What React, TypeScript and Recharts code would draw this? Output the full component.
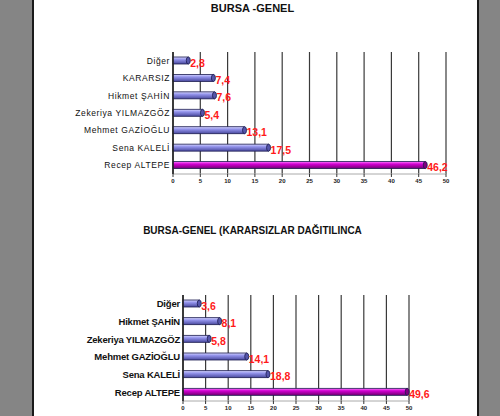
import React from "react";
import {
  BarChart,
  Bar,
  XAxis,
  YAxis,
  CartesianGrid,
  Cell,
  LabelList,
} from "recharts";

// top chart: BURSA -GENEL
const topCategories = [
  "Diğer",
  "KARARSIZ",
  "Hikmet ŞAHİN",
  "Zekeriya YILMAZGÖZ",
  "Mehmet GAZİOĞLU",
  "Sena KALELİ",
  "Recep ALTEPE",
];
const topValues = [2.8, 7.4, 7.6, 5.4, 13.1, 17.5, 46.2];

// bottom chart: after undecided votes are distributed
const bottomCategories = [
  "Diğer",
  "Hikmet ŞAHİN",
  "Zekeriya YILMAZGÖZ",
  "Mehmet GAZİOĞLU",
  "Sena KALELİ",
  "Recep ALTEPE",
];
const bottomValues = [3.6, 8.1, 5.8, 14.1, 18.8, 49.6];

const xTicks = [0, 5, 10, 15, 20, 25, 30, 35, 40, 45, 50];

const topData = topCategories.map((name, i) => ({ name, value: topValues[i] }));
const bottomData = bottomCategories.map((name, i) => ({
  name,
  value: bottomValues[i],
}));

const font = "Arial, 'Liberation Sans', sans-serif";

// cylinder-ish bar like the old excel 3d look
const TubeBar = (props: any) => {
  const { x, y, width, height, fill, cap } = props;
  if (!width || width <= 0) return null;
  return (
    <g>
      <rect
        x={x}
        y={y}
        width={width}
        height={height}
        fill={fill}
        stroke="#1c1c50"
        strokeWidth={0.8}
      />
      <ellipse
        cx={x + width}
        cy={y + height / 2}
        rx={2}
        ry={height / 2}
        fill={cap}
        stroke="#1c1c50"
        strokeWidth={0.8}
      />
    </g>
  );
};

const ValueLabel = (props: any) => {
  const { x, y, width, height, value } = props;
  return (
    <text
      x={x + width + 2}
      y={y + height / 2 + 6}
      fill="#ff1a1a"
      fontSize={10.5}
      fontWeight="bold"
      fontFamily={font}
    >
      {String(value).replace(".", ",")}
    </text>
  );
};

const Defs = () => (
  <defs>
    <linearGradient id="gradBlue" x1="0" y1="0" x2="0" y2="1">
      <stop offset="0%" stopColor="#d8d8ff" />
      <stop offset="35%" stopColor="#9494ec" />
      <stop offset="100%" stopColor="#48489c" />
    </linearGradient>
    <linearGradient id="gradPink" x1="0" y1="0" x2="0" y2="1">
      <stop offset="0%" stopColor="#ff80ff" />
      <stop offset="35%" stopColor="#d400d4" />
      <stop offset="100%" stopColor="#700070" />
    </linearGradient>
  </defs>
);

type ChartProps = {
  data: { name: string; value: number }[];
  height: number;
  marginTop: number;
  marginLeft: number;
  marginRight: number;
  boldNames: boolean;
};

const TubeChart = ({
  data,
  height,
  marginTop,
  marginLeft,
  marginRight,
  boldNames,
}: ChartProps) => (
  <BarChart
    width={500}
    height={height}
    layout="vertical"
    data={data}
    margin={{ top: marginTop, right: marginRight, left: 0, bottom: 4 }}
    barCategoryGap="60%"
  >
    <Defs />
    <CartesianGrid horizontal={false} stroke="#3a3a3a" strokeWidth={1.2} />
    <XAxis
      type="number"
      domain={[0, 50]}
      ticks={xTicks}
      height={20}
      axisLine={{ stroke: "#aaaaaa" }}
      tickLine={{ stroke: "#333" }}
      tickSize={3}
      tick={{ fontSize: 6, fill: "#222", fontFamily: font, fontWeight: "bold" }}
    />
    <YAxis
      type="category"
      dataKey="name"
      width={marginLeft}
      axisLine={{ stroke: "#222", strokeWidth: 1.5 }}
      tickLine={false}
      tickSize={0}
      tickMargin={3}
      tick={{
        fontSize: boldNames ? 9.5 : 8.5,
        fill: "#111",
        fontFamily: font,
        fontWeight: boldNames ? "bold" : "normal",
        letterSpacing: boldNames ? -0.2 : 0.6,
      }}
    />
    <Bar
      dataKey="value"
      barSize={7}
      isAnimationActive={false}
      shape={(p: any) => (
        <TubeBar
          {...p}
          cap={p.index === data.length - 1 ? "#800080" : "#5555aa"}
        />
      )}
    >
      {data.map((d, i) => (
        <Cell
          key={d.name}
          fill={i === data.length - 1 ? "url(#gradPink)" : "url(#gradBlue)"}
        />
      ))}
      <LabelList dataKey="value" content={<ValueLabel />} />
    </Bar>
  </BarChart>
);

export default function App() {
  return (
    <div
      style={{
        position: "absolute",
        top: 0,
        left: 0,
        width: 500,
        height: 416,
        background: "#858585",
        overflow: "hidden",
        fontFamily: font,
      }}
    >
      <div
        style={{
          position: "absolute",
          top: 0,
          left: 32,
          width: 447,
          height: 416,
          background: "#ffffff",
          borderLeft: "2px solid #1a1a1a",
          borderRight: "2px solid #1a1a1a",
          boxSizing: "border-box",
        }}
      />
      <div
        style={{
          position: "absolute",
          top: 2,
          left: 0,
          width: 505,
          textAlign: "center",
          fontSize: 11,
          fontWeight: "bold",
          color: "#111",
        }}
      >
        BURSA -GENEL
      </div>
      <div style={{ position: "absolute", top: 0, left: 0 }}>
        <TubeChart
          data={topData}
          height={198}
          marginTop={52}
          marginLeft={173}
          marginRight={54}
          boldNames={false}
        />
      </div>
      <div
        style={{
          position: "absolute",
          top: 225,
          left: 0,
          width: 505,
          textAlign: "center",
          fontSize: 10,
          fontWeight: "bold",
          color: "#111",
        }}
      >
        BURSA-GENEL (KARARSIZLAR DAĞITILINCA
      </div>
      <div style={{ position: "absolute", top: 0, left: 0 }}>
        <TubeChart
          data={bottomData}
          height={425}
          marginTop={295}
          marginLeft={183}
          marginRight={91}
          boldNames={true}
        />
      </div>
    </div>
  );
}
